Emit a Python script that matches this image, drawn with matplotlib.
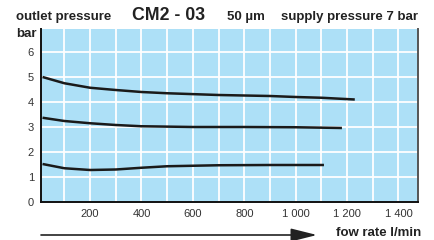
import matplotlib
matplotlib.use("Agg")
import matplotlib.pyplot as plt

plt.rcParams["font.family"] = ["Liberation Sans", "DejaVu Sans"]

# curves (flow l/min, outlet pressure bar)
flow_top = [15, 100, 200, 300, 400, 500, 700, 900, 1000, 1100, 1230]
p_top = [5.0, 4.75, 4.57, 4.48, 4.4, 4.35, 4.28, 4.24, 4.2, 4.17, 4.1]
flow_mid = [15, 100, 200, 300, 400, 600, 800, 1000, 1180]
p_mid = [3.37, 3.24, 3.15, 3.08, 3.03, 3.0, 3.0, 2.99, 2.96]
flow_low = [15, 100, 200, 300, 400, 500, 700, 900, 1110]
p_low = [1.52, 1.35, 1.28, 1.3, 1.37, 1.43, 1.47, 1.48, 1.48]

xticks = [200, 400, 600, 800, 1000, 1200, 1400]
xlabels = ["200", "400", "600", "800", "1 000", "1 200", "1 400"]
yticks = [0, 1, 2, 3, 4, 5, 6]

W, H = 435, 240
fig = plt.figure(figsize=(W / 100, H / 100), dpi=100)
L, R, T, B = 41, 418, 29, 202
ax = fig.add_axes([L / W, (H - B) / H, (R - L) / W, (B - T) / H])
ax.set_facecolor("#ade0f7")

ax.set_xlim(9, 1476)
ax.set_ylim(0, 6.92)

for v in range(100, 1500, 100):
    ax.axvline(v, color="white", lw=1.3, zorder=1)
for v in range(1, 7):
    ax.axhline(v, color="white", lw=1.3, zorder=1)

for fx, py in [(flow_top, p_top), (flow_mid, p_mid), (flow_low, p_low)]:
    ax.plot(fx, py, color="#1a1a1a", lw=1.8, zorder=3, solid_capstyle="butt")

ax.set_xticks(xticks)
ax.set_xticklabels(xlabels)
ax.set_yticks(yticks)
ax.tick_params(length=0, labelsize=8, labelcolor="#333333", pad=5)

ax.spines["top"].set_visible(False)
ax.spines["left"].set_color("#111111")
ax.spines["bottom"].set_color("#111111")
ax.spines["right"].set_color("#555555")
for s in ["left", "bottom", "right"]:
    ax.spines[s].set_linewidth(1.4)

tc = "#222222"
fs = 9.5
fig.text(16 / W, 1 - 17 / H, "outlet pressure", fontsize=fs, fontweight="bold",
         color=tc, va="center", ha="left")
fig.text(132 / W, 1 - 16 / H, "CM2 - 03", fontsize=12.8, fontweight="bold",
         color=tc, va="center", ha="left")
fig.text(227 / W, 1 - 17 / H, "50 µm", fontsize=fs, fontweight="bold",
         color=tc, va="center", ha="left")
fig.text(418 / W, 1 - 17 / H, "supply pressure 7 bar", fontsize=fs,
         fontweight="bold", color=tc, va="center", ha="right")
fig.text(16 / W, 1 - 34 / H, "bar", fontsize=fs, fontweight="bold",
         color=tc, va="center", ha="left")

fig.text(421 / W, 1 - 233 / H, "fow rate l/min", fontsize=fs, fontweight="bold",
         color=tc, va="center", ha="right")
ax.annotate("", xy=(317, H - 235), xytext=(41, H - 235),
            xycoords="figure pixels", textcoords="figure pixels",
            arrowprops=dict(arrowstyle="-|>,head_length=1.6,head_width=0.4",
                            color="#222222", lw=1.2, shrinkA=0, shrinkB=0))

fig.savefig("out.png", dpi=100)
